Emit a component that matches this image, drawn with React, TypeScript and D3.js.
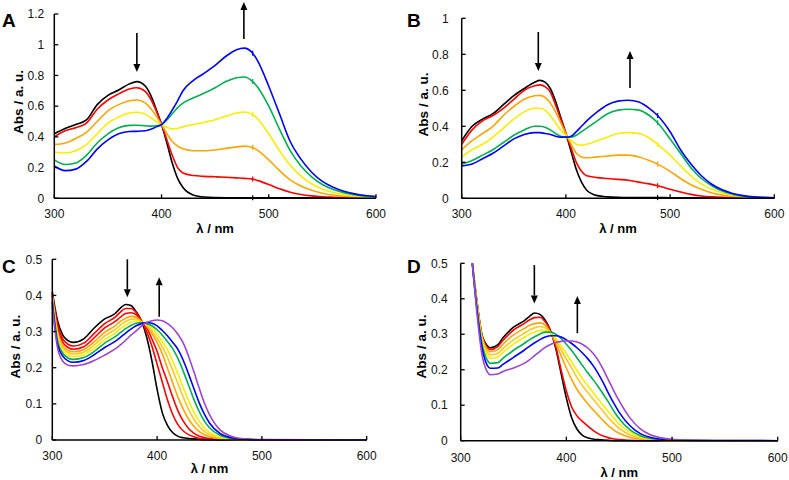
import React from 'react';
import * as d3 from 'd3';

// ---------- DATA ----------
const wlA = [300,310,320,330,340,350,360,370,377,385,390,395,400,405,410,415,420,430,440,450,460,470,477,485,490,500,510,520,530,540,550,560,570,580,590,600];
const aBlack = [.42,.455,.48,.51,.61,.67,.705,.745,.76,.73,.67,.58,.48,.36,.23,.13,.07,.02,.008,.005,.004,.004,.004,.004,.004,.003,.003,.003,.003,.003,.003,.003,.003,.003,.003,.003];
const aRed = [.40,.44,.46,.49,.58,.64,.68,.712,.72,.695,.645,.57,.48,.38,.28,.20,.165,.148,.143,.14,.137,.133,.13,.125,.115,.09,.062,.04,.025,.016,.01,.007,.005,.004,.003,.003];
const aOrange = [.35,.36,.39,.43,.50,.57,.61,.635,.64,.62,.585,.535,.48,.42,.37,.34,.322,.31,.31,.315,.325,.335,.34,.33,.31,.25,.18,.12,.08,.052,.033,.021,.013,.008,.005,.004];
const aYellow = [.30,.295,.31,.35,.42,.49,.53,.555,.56,.548,.525,.5,.48,.462,.452,.455,.465,.48,.495,.512,.535,.555,.562,.545,.515,.42,.31,.215,.145,.095,.06,.038,.024,.015,.009,.006];
const aGreen = [.25,.22,.23,.28,.36,.42,.46,.475,.476,.472,.47,.472,.48,.51,.55,.59,.62,.655,.685,.72,.76,.785,.79,.76,.72,.60,.45,.31,.21,.14,.09,.058,.037,.023,.014,.009];
const aBlue = [.21,.18,.19,.24,.32,.38,.42,.435,.436,.44,.45,.465,.48,.52,.575,.635,.70,.77,.815,.865,.925,.968,.978,.945,.89,.73,.55,.37,.255,.17,.11,.072,.046,.029,.018,.012];

const wlB = [300,310,320,330,340,350,360,370,375,380,385,390,395,400,405,410,415,420,430,440,450,460,470,480,488,500,510,520,530,540,550,560,570,580,590,600];
const bBlack = [.32,.40,.44,.47,.52,.57,.61,.645,.655,.645,.61,.54,.45,.36,.26,.16,.09,.045,.015,.008,.005,.004,.004,.004,.004,.003,.003,.003,.003,.003,.003,.003,.003,.003,.003,.003];
const bRed = [.30,.38,.43,.46,.50,.55,.60,.625,.63,.62,.59,.52,.44,.36,.28,.20,.15,.125,.115,.11,.105,.10,.09,.08,.07,.05,.035,.022,.013,.008,.005,.004,.003,.002,.002,.002];
const bOrange = [.27,.32,.36,.40,.46,.51,.55,.57,.572,.56,.53,.48,.42,.36,.30,.25,.23,.225,.23,.235,.24,.24,.23,.21,.19,.15,.11,.075,.05,.03,.018,.01,.006,.004,.003,.002];
const bYellow = [.23,.27,.30,.34,.39,.44,.48,.50,.50,.49,.46,.42,.38,.35,.32,.30,.295,.30,.32,.34,.36,.365,.36,.335,.30,.24,.18,.125,.08,.05,.03,.017,.009,.005,.003,.002];
const bGreen = [.19,.21,.24,.27,.31,.35,.38,.40,.40,.395,.38,.36,.345,.34,.34,.35,.37,.39,.43,.47,.49,.495,.49,.46,.42,.33,.25,.17,.11,.07,.04,.023,.012,.007,.004,.003];
const bBlue = [.18,.19,.22,.25,.29,.33,.355,.365,.365,.36,.355,.345,.34,.34,.345,.37,.40,.43,.48,.52,.54,.545,.535,.50,.46,.37,.27,.19,.125,.078,.047,.027,.015,.008,.005,.003];

const wlC = [300,305,310,315,320,330,340,350,360,365,370,375,380,385,390,395,400,405,410,415,420,425,430,435,440,445,450,460,470,480,490,500,600];
const cBlack = [.41,.33,.29,.275,.27,.28,.31,.335,.35,.365,.375,.372,.355,.33,.285,.22,.14,.075,.04,.02,.01,.006,.004,.003,.002,.001,.001,0,0,0,0,0,0];
const cRed1 = [.405,.32,.28,.265,.26,.268,.295,.322,.34,.354,.364,.364,.353,.33,.3,.26,.21,.16,.11,.07,.042,.025,.015,.009,.005,.003,.002,.001,0,0,0,0,0];
const cRed2 = [.40,.31,.27,.256,.251,.258,.283,.31,.328,.34,.35,.352,.347,.33,.31,.28,.245,.2,.16,.118,.08,.052,.032,.019,.011,.007,.004,.002,.001,0,0,0,0];
const cOrange = [.398,.30,.262,.248,.244,.25,.272,.298,.316,.328,.337,.342,.34,.328,.315,.295,.27,.238,.198,.157,.118,.085,.058,.038,.024,.015,.009,.003,.001,0,0,0,0];
const cGold = [.395,.295,.256,.242,.238,.243,.263,.288,.306,.318,.328,.334,.335,.327,.318,.302,.282,.258,.228,.192,.155,.118,.085,.058,.038,.024,.015,.005,.002,.001,0,0,0];
const cYellow = [.39,.285,.248,.235,.231,.236,.254,.278,.296,.308,.318,.326,.33,.326,.32,.31,.293,.272,.25,.218,.182,.145,.11,.078,.053,.034,.021,.008,.003,.001,0,0,0];
const cGreen = [.385,.275,.24,.227,.223,.228,.245,.268,.286,.297,.308,.317,.323,.325,.322,.316,.305,.29,.272,.252,.225,.19,.152,.113,.08,.053,.034,.013,.005,.002,.001,0,0];
const cBlue = [.38,.265,.232,.219,.215,.22,.236,.256,.273,.284,.296,.307,.316,.322,.325,.323,.316,.303,.288,.27,.25,.22,.183,.143,.104,.072,.047,.018,.007,.003,.001,0,0];
const cPurple = [.37,.255,.218,.207,.205,.209,.22,.235,.252,.263,.276,.29,.302,.315,.325,.33,.332,.33,.322,.31,.292,.268,.232,.19,.145,.103,.07,.028,.011,.004,.002,.001,0];

const wlD = [311,315,320,325,328,335,340,350,360,365,370,375,380,385,390,395,400,405,410,415,420,425,430,435,440,445,450,460,470,480,490,500,520,600];
const dBlack = [.5,.40,.30,.268,.262,.27,.29,.32,.338,.35,.36,.356,.34,.31,.26,.19,.12,.065,.033,.016,.008,.005,.003,.002,.001,0,0,0,0,0,0,0,0,0];
const dRed = [.5,.40,.298,.264,.257,.265,.283,.312,.33,.34,.347,.348,.335,.31,.265,.2,.14,.095,.07,.055,.042,.03,.02,.013,.008,.005,.003,.001,0,0,0,0,0,0];
const dOrange = [.5,.40,.295,.258,.251,.256,.272,.298,.316,.325,.33,.332,.325,.305,.275,.24,.205,.172,.145,.124,.105,.088,.072,.056,.042,.03,.021,.01,.004,.002,.001,0,0,0];
const dGold = [.5,.395,.29,.25,.242,.246,.26,.284,.303,.312,.318,.322,.318,.305,.283,.257,.23,.205,.178,.156,.137,.118,.1,.082,.064,.048,.035,.017,.008,.003,.001,0,0,0];
const dYellow = [.5,.39,.285,.241,.232,.236,.249,.272,.291,.3,.306,.311,.311,.303,.288,.268,.245,.222,.198,.176,.156,.137,.118,.099,.081,.063,.047,.024,.011,.005,.002,.001,0,0];
const dGreen = [.5,.385,.275,.228,.218,.22,.232,.255,.274,.284,.293,.301,.306,.306,.3,.288,.272,.254,.234,.213,.192,.173,.153,.131,.108,.083,.062,.031,.014,.006,.003,.001,0,0];
const dBlue = [.5,.38,.265,.213,.204,.205,.215,.235,.255,.266,.276,.285,.292,.296,.296,.292,.284,.274,.262,.248,.232,.213,.19,.163,.133,.105,.08,.043,.02,.009,.004,.002,.001,0];
const dPurple = [.5,.37,.245,.195,.186,.188,.195,.205,.218,.228,.24,.252,.263,.271,.277,.28,.281,.281,.278,.272,.262,.247,.227,.2,.17,.14,.112,.065,.033,.016,.008,.004,.001,0];

const xTicks = [300, 400, 500, 600];
const yTicksA = [0, 0.2, 0.4, 0.6, 0.8, 1, 1.2];
const yTicksB = [0, 0.2, 0.4, 0.6, 0.8, 1];
const yTicksCD = [0, 0.1, 0.2, 0.3, 0.4, 0.5];

// ---------- STYLE ----------
const BLACK = '#000000';
const RED = '#ff0000';
const ORANGE = '#ffa500';
const GOLD = '#ffc820';
const YELLOW = '#f8ee00';
const GREEN = '#00b050';
const BLUE = '#0000ff';
const PURPLE = '#9b45d0';
const FONT = '"Liberation Sans", Arial, Helvetica, sans-serif';

type Arrow = { wl: number; from: number; to: number };
type Panel = {
  letter: string;
  wl: number[];
  series: { color: string; values: number[] }[];
  yMax: number;
  yTicks: number[];
  x0: number; x1: number; y0: number; y1: number;
  tickDy: number; titleDy: number; yTitleX: number; yTitleY: number; yLabGap: number;
  letterX: number; letterY: number;
  arrows: Arrow[];
  markWl?: number;
};

const panels: Panel[] = [
  {
    letter: 'A', wl: wlA,
    series: [
      { color: BLACK, values: aBlack }, { color: RED, values: aRed }, { color: ORANGE, values: aOrange },
      { color: YELLOW, values: aYellow }, { color: GREEN, values: aGreen }, { color: BLUE, values: aBlue },
    ],
    yMax: 1.2, yTicks: yTicksA,
    x0: 54.3, x1: 376, y0: 198.3, y1: 14,
    tickDy: 19.5, titleDy: 34.5, yTitleX: 18, yTitleY: 102, yLabGap: 10,
    letterX: 2, letterY: 27,
    arrows: [{ wl: 377, from: 1.076, to: 0.822 }, { wl: 476.8, from: 1.037, to: 1.278 }],
    markWl: 485,
  },
  {
    letter: 'B', wl: wlB,
    series: [
      { color: BLACK, values: bBlack }, { color: RED, values: bRed }, { color: ORANGE, values: bOrange },
      { color: YELLOW, values: bYellow }, { color: GREEN, values: bGreen }, { color: BLUE, values: bBlue },
    ],
    yMax: 1, yTicks: yTicksB,
    x0: 461.7, x1: 774.3, y0: 198.3, y1: 18.3,
    tickDy: 19.5, titleDy: 34.5, yTitleX: 423, yTitleY: 104.5, yLabGap: 13,
    letterX: 407, letterY: 27,
    arrows: [{ wl: 373.5, from: 0.924, to: 0.707 }, { wl: 461.5, from: 0.613, to: 0.818 }],
    markWl: 488,
  },
  {
    letter: 'C', wl: wlC,
    series: [
      { color: BLACK, values: cBlack }, { color: RED, values: cRed1 }, { color: RED, values: cRed2 },
      { color: ORANGE, values: cOrange }, { color: GOLD, values: cGold }, { color: YELLOW, values: cYellow },
      { color: GREEN, values: cGreen }, { color: BLUE, values: cBlue }, { color: PURPLE, values: cPurple },
    ],
    yMax: 0.5, yTicks: yTicksCD,
    x0: 52.3, x1: 366.7, y0: 440, y1: 259.3,
    tickDy: 19.5, titleDy: 32.8, yTitleX: 15, yTitleY: 346.7, yLabGap: 10,
    letterX: 2, letterY: 273,
    arrows: [{ wl: 371.6, from: 0.5, to: 0.395 }, { wl: 402, from: 0.341, to: 0.45 }],
  },
  {
    letter: 'D', wl: wlD,
    series: [
      { color: BLACK, values: dBlack }, { color: RED, values: dRed }, { color: ORANGE, values: dOrange },
      { color: GOLD, values: dGold }, { color: YELLOW, values: dYellow }, { color: GREEN, values: dGreen },
      { color: BLUE, values: dBlue }, { color: PURPLE, values: dPurple },
    ],
    yMax: 0.5, yTicks: yTicksCD,
    x0: 460.7, x1: 777.7, y0: 440.7, y1: 263.3,
    tickDy: 21.5, titleDy: 36.3, yTitleX: 421.7, yTitleY: 346.5, yLabGap: 13,
    letterX: 407, letterY: 273,
    arrows: [{ wl: 369.7, from: 0.495, to: 0.387 }, { wl: 410.4, from: 0.303, to: 0.408 }],
  },
];

function fmt(v: number) {
  return String(+v.toFixed(1));
}

function PanelView({ p }: { p: Panel }) {
  const x = d3.scaleLinear().domain([300, 600]).range([p.x0, p.x1]);
  const y = d3.scaleLinear().domain([0, p.yMax]).range([p.y0, p.y1]);
  const line = d3
    .line<[number, number]>()
    .x((d) => x(d[0]))
    .y((d) => y(d[1]))
    .curve(d3.curveMonotoneX);
  const midX = (p.x0 + p.x1) / 2;
  const markIdx = p.markWl != null ? p.wl.indexOf(p.markWl) : -1;
  return (
    <g>
      {p.series.map((s, i) => (
        <path
          key={i}
          d={line(p.wl.map((w, j) => [w, s.values[j]] as [number, number])) || ''}
          fill="none"
          stroke={s.color}
          strokeWidth={1.6}
        />
      ))}
      {markIdx >= 0 &&
        p.series.map((s, i) => (
          <line
            key={'m' + i}
            x1={x(p.wl[markIdx])}
            x2={x(p.wl[markIdx])}
            y1={y(s.values[markIdx]) - 2.5}
            y2={y(s.values[markIdx]) + 2.5}
            stroke={s.color}
            strokeWidth={1.2}
          />
        ))}
      <line x1={p.x0} x2={p.x0} y1={p.y0} y2={p.y1} stroke="#000" strokeWidth={1.5} />
      <line x1={p.x0} x2={p.x1} y1={p.y0} y2={p.y0} stroke="#000" strokeWidth={1.5} />
      {p.yTicks.map((t) => (
        <g key={'y' + t}>
          <line x1={p.x0} x2={p.x0 + 4} y1={y(t)} y2={y(t)} stroke="#000" strokeWidth={1.3} />
          <text
            x={p.x0 - p.yLabGap}
            y={y(t)}
            dy="0.35em"
            textAnchor="end"
            fontSize={12}
            fontFamily={FONT}
            fill="#111"
          >
            {fmt(t)}
          </text>
        </g>
      ))}
      {xTicks.map((t) => (
        <g key={'x' + t}>
          <line x1={x(t)} x2={x(t)} y1={p.y0} y2={p.y0 - 4} stroke="#000" strokeWidth={1.3} />
          <text x={x(t)} y={p.y0 + p.tickDy} textAnchor="middle" fontSize={12} fontFamily={FONT} fill="#111">
            {t}
          </text>
        </g>
      ))}
      <text x={midX} y={p.y0 + p.titleDy} textAnchor="middle" fontSize={13} fontWeight="bold" fontFamily={FONT}>
        λ / nm
      </text>
      <text
        transform={`translate(${p.yTitleX},${p.yTitleY}) rotate(-90)`}
        dy="0.35em"
        textAnchor="middle"
        fontSize={13.5}
        fontWeight="bold"
        fontFamily={FONT}
      >
        Abs / a. u.
      </text>
      <text x={p.letterX} y={p.letterY} fontSize={19} fontWeight="bold" fontFamily={FONT}>
        {p.letter}
      </text>
      {p.arrows.map((a, i) => {
        const ax = x(a.wl);
        const yf = y(a.from);
        const yt = y(a.to);
        const dir = yt > yf ? 1 : -1;
        const head = 8;
        return (
          <g key={'a' + i}>
            <line x1={ax} x2={ax} y1={yf} y2={yt - dir * head} stroke="#000" strokeWidth={1.6} />
            <path
              d={`M${ax - 3.5},${yt - dir * head} L${ax + 3.5},${yt - dir * head} L${ax},${yt} Z`}
              fill="#000"
            />
          </g>
        );
      })}
    </g>
  );
}

export default function App() {
  return (
    <svg
      width={789}
      height={480}
      style={{ position: 'absolute', left: 0, top: 0, background: '#fff' }}
    >
      <rect width={789} height={480} fill="#fff" />
      {panels.map((p) => (
        <PanelView key={p.letter} p={p} />
      ))}
    </svg>
  );
}
